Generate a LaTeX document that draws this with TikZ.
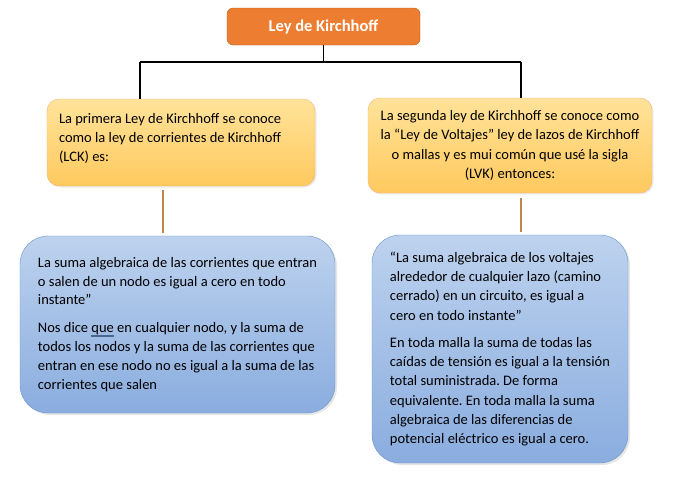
\documentclass[tikz,border=0pt]{standalone}
\usepackage{fontspec}
\setmainfont{Carlito}
\usetikzlibrary{arrows.meta,positioning,calc,shadows}
\definecolor{titorange}{HTML}{ED7D31}
\definecolor{titedge}{HTML}{B55D22}
\definecolor{goldtop}{HTML}{FFE39A}
\definecolor{goldbot}{HTML}{FFC95E}
\definecolor{goldedge}{HTML}{F2B27A}
\definecolor{bluetop}{HTML}{BDD2EE}
\definecolor{bluebot}{HTML}{8AADDF}
\definecolor{blueedge}{HTML}{6A93CB}
\definecolor{stembrown}{HTML}{C0844E}
\newcommand{\gramline}[1]{{\setbox0\hbox{#1}\rlap{\color{blueedge!70!black}\raisebox{-2.2pt}{\rule{\wd0}{0.5pt}}\raisebox{-3.6pt}{\kern-\wd0\rule{\wd0}{0.5pt}}}\box0}}
\frenchspacing

\begin{document}
\begin{tikzpicture}[x=1pt, y=1pt,
  every node/.style={font=\fontsize{14.5}{19.3}\selectfont},
  titlebox/.style={draw=titedge, fill=titorange, rounded corners=6pt, text=white, font=\fontsize{16.5}{20}\selectfont\bfseries, minimum width=193pt, minimum height=37pt},
  lawbox/.style={draw=goldedge, top color=goldtop, bottom color=goldbot, rounded corners=12pt, drop shadow={opacity=0.15, shadow xshift=1.5pt, shadow yshift=-1.5pt}},
  defbox/.style={draw=blueedge, top color=bluetop, bottom color=bluebot, rounded corners=28pt, align=left, drop shadow={opacity=0.2, shadow xshift=2pt, shadow yshift=-2pt}},
  tree/.style={draw=black, line width=1.6pt},
  stem/.style={draw=stembrown, line width=1.3pt}]
  \useasboundingbox (0,0) rectangle (697,-482);

  \node[titlebox] (tit) at (323.5,-26.5) {Ley de Kirchhoff};

  \node[lawbox, align=flush left, inner xsep=12pt, text width=244pt, minimum height=87pt] (lck) at (181,-142.5)
    {La primera Ley de Kirchhoff se conoce\\como la ley de corrientes de Kirchhoff\\(LCK) es:\\[-15pt]\strut};
  \node[lawbox, align=center, minimum width=284pt, minimum height=95pt,
    font=\fontsize{14.5}{19.6}\selectfont] (lvk) at (510,-145.5)
    {La segunda ley de Kirchhoff se conoce como\\la “Ley de Voltajes” ley de lazos de Kirchhoff\\o mallas y es mui común que usé la sigla\\(LVK) entonces:};

  \node[defbox, minimum width=315pt, minimum height=177pt,
    font=\fontsize{14.5}{18.9}\selectfont] (lckdef) at (177.5,-324.5)
    {La suma algebraica de las corrientes que entran\\o salen de un nodo es igual a cero en todo\\instante”\\[9pt]
     Nos dice \gramline{que} en cualquier nodo, y la suma de\\todos los nodos y la suma de las corrientes que\\entran en ese nodo no es igual a la suma de las\\corrientes que salen};
  \node[defbox, minimum width=256pt, minimum height=228pt] (lvkdef) at (500,-349)
    {“La suma algebraica de los voltajes\\alrededor de cualquier lazo (camino\\cerrado) en un circuito, es igual a\\cero en todo instante”\\[8pt]
     En toda malla la suma de todas las\\caídas de tensión es igual a la tensión\\total suministrada. De forma\\equivalente. En toda malla la suma\\algebraica de las diferencias de\\potencial eléctrico es igual a cero.};

  % tree from the title
  \coordinate (jl) at (140,-62);
  \coordinate (jr) at (521,-62);
  \draw[tree] (tit.south) -- (tit.south |- jl);
  \draw[tree] (jl) -- (jr);
  \draw[tree] (jl) -- (jl |- lck.north);
  \draw[tree] (jr) -- (jr |- lvk.north);

  % stems to the definitions
  \draw[stem] ([xshift=-18pt,yshift=-4pt]lck.south) -- ([xshift=-18pt,yshift=3pt]lck.south |- lckdef.north);
  \draw[stem] ([xshift=11pt,yshift=-5pt]lvk.south) -- ([xshift=11pt,yshift=3pt]lvk.south |- lvkdef.north);
\end{tikzpicture}
\end{document}
